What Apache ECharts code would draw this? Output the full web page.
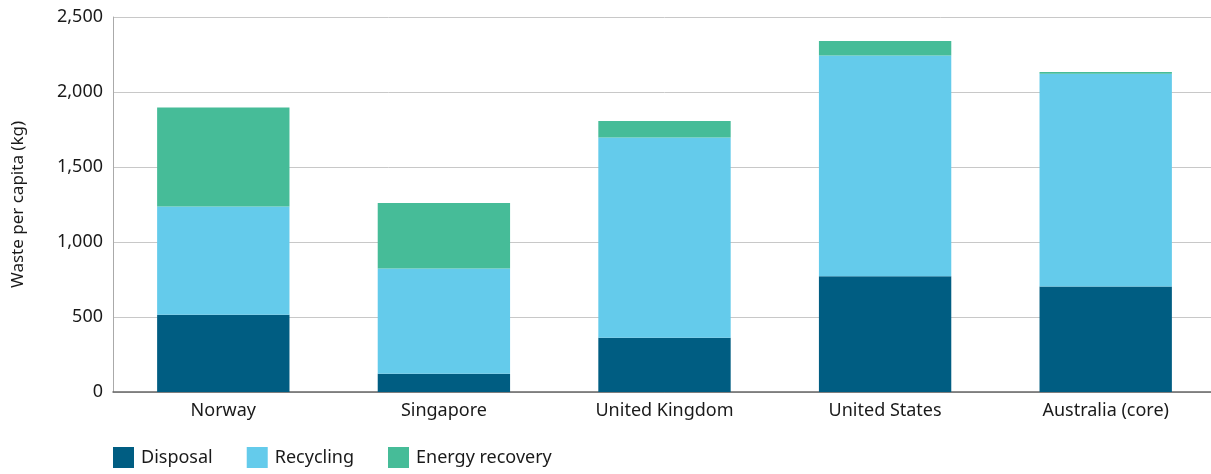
<!DOCTYPE html>
<html>
<head>
<meta charset="utf-8">
<script src="https://cdn.jsdelivr.net/npm/echarts@6/dist/echarts.min.js"></script>
<style>
  html, body { margin: 0; padding: 0; background: #fff; overflow: hidden; }
  /* the plot runs a few pixels past the right edge of the window */
  #chart { width: 1216px; height: 474px; }
</style>
</head>
<body>
<div id="chart"></div>
<script>
// Waste per capita (kg) by treatment route
const countries = ['Norway', 'Singapore', 'United Kingdom', 'United States', 'Australia (core)'];
const disposal = [515, 122, 362, 771, 704];
const recycling = [721, 702, 1335, 1473, 1418];
const energyRecovery = [661, 436, 110, 96, 11];
const yTicks = [0, 500, 1000, 1500, 2000, 2500];

const FONT = '"Noto Sans", "Open Sans", sans-serif';
const chart = echarts.init(document.getElementById('chart'), null, { renderer: 'canvas' });

function barSeries(name, data, color) {
  return {
    name: name,
    type: 'bar',
    stack: 'total',
    data: data,
    barWidth: '60%',
    itemStyle: { color: color },
    emphasis: { disabled: true }
  };
}

chart.setOption({
  animation: false,
  textStyle: { fontFamily: FONT },
  grid: { left: 113, top: 17, right: 0, bottom: 82, containLabel: false },
  legend: {
    left: 113,
    top: 447,
    padding: 0,
    itemWidth: 21,
    itemHeight: 21,
    itemGap: 34,
    icon: 'rect',
    textStyle: { fontSize: 18, color: '#1a1a1a', fontFamily: FONT, padding: [5, 0, 0, 2] },
    data: ['Disposal', 'Recycling', 'Energy recovery']
  },
  xAxis: {
    type: 'category',
    data: countries,
    axisTick: { show: false },
    axisLine: { lineStyle: { color: '#666', width: 1.5 } },
    axisLabel: { fontSize: 18, color: '#1a1a1a', margin: 10, fontFamily: FONT }
  },
  yAxis: {
    type: 'value',
    min: yTicks[0],
    max: yTicks[yTicks.length - 1],
    interval: 500,
    name: 'Waste per capita (kg)',
    nameLocation: 'middle',
    nameRotate: 90,
    nameGap: 86,
    nameTextStyle: { fontSize: 17, color: '#1a1a1a', fontFamily: FONT },
    axisLine: { show: true, lineStyle: { color: '#aaa', width: 1 } },
    axisTick: { show: false },
    splitLine: { lineStyle: { color: '#c8c8c8', width: 1 } },
    axisLabel: {
      fontSize: 18,
      color: '#1a1a1a',
      margin: 10,
      fontFamily: FONT,
      formatter: v => v.toLocaleString('en-US')
    }
  },
  series: [
    barSeries('Disposal', disposal, '#005d82'),
    barSeries('Recycling', recycling, '#64cbeb'),
    barSeries('Energy recovery', energyRecovery, '#46bc98')
  ]
});
</script>
</body>
</html>
